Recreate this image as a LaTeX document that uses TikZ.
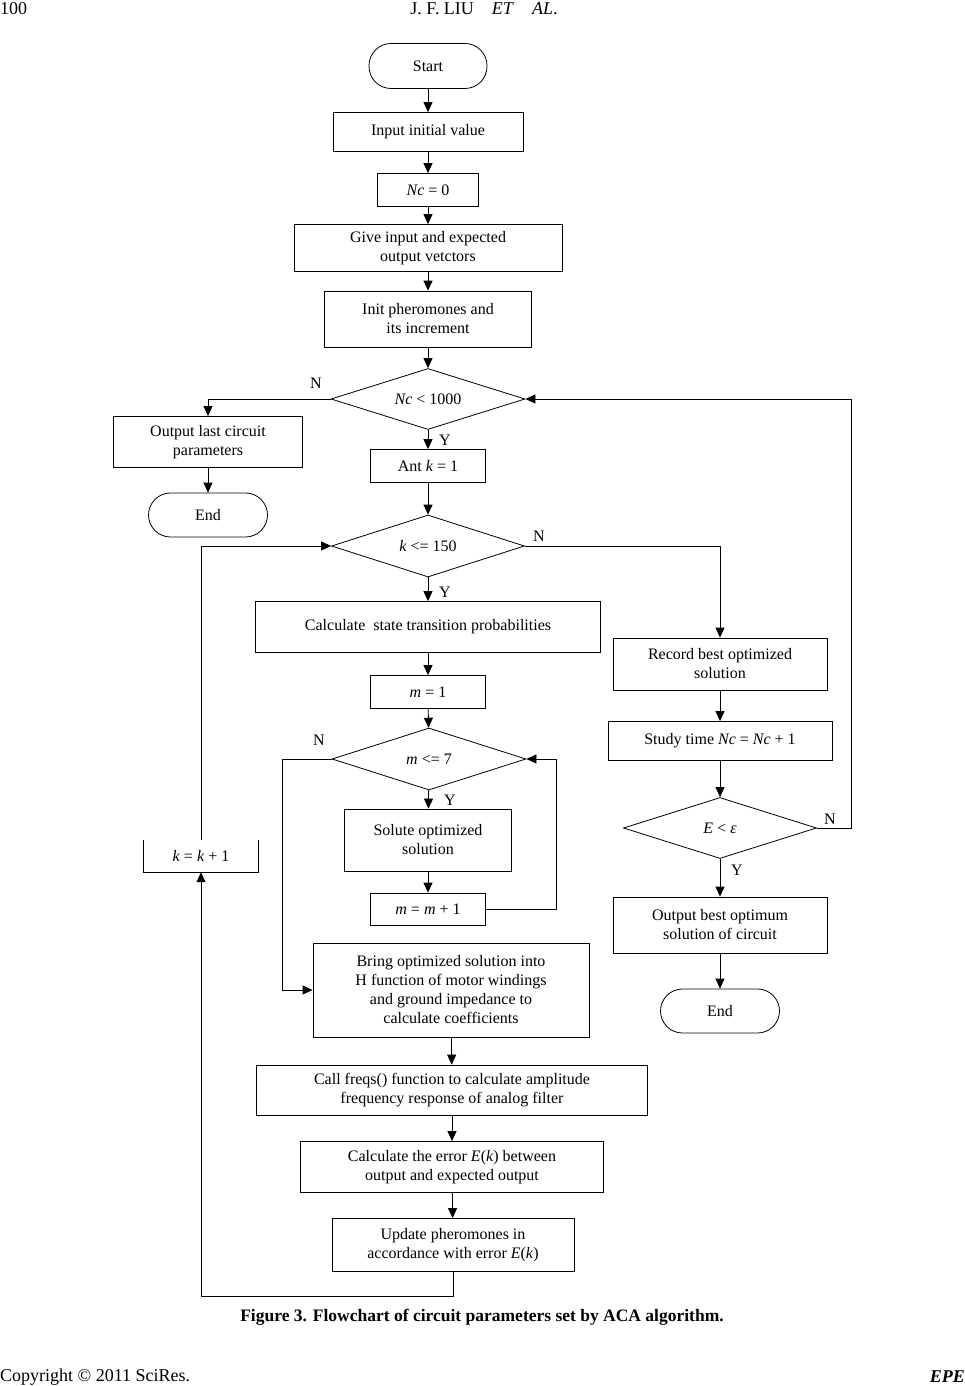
\documentclass[tikz,border=0pt]{standalone}
\usepackage{fontspec}
\setmainfont{Liberation Serif}
\usetikzlibrary{shapes.geometric,arrows.meta}
\begin{document}
\begin{tikzpicture}[x=1pt,y=-1pt,
  every node/.style={font=\fontsize{16}{19}\selectfont, align=center, inner sep=0pt},
  box/.style={draw, line width=0.8pt, rectangle},
  term/.style={draw, line width=0.8pt, rectangle, rounded corners=22pt},
  dec/.style={draw, line width=0.8pt, diamond, aspect=3.2},
  lbl/.style={font=\fontsize{16}{18}\selectfont},
  arr/.style={line width=0.8pt, -{Triangle[length=10pt,width=9pt]}},
  ln/.style={line width=0.8pt}]
\useasboundingbox (0,0) rectangle (965,1386);
% header / footer
\node[anchor=west, font=\fontsize{18}{20}\selectfont] (pg) at (0,9) {100};
\node[font=\fontsize{18}{20}\selectfont] (hd) at (484,9) {J. F. LIU\quad \textit{ET}\quad \textit{AL}.};
\node[font=\bfseries\fontsize{17.5}{20}\selectfont] (cap) at (482,1317) {Figure 3. Flowchart of circuit parameters set by ACA algorithm.};
\node[anchor=west, font=\fontsize{18}{20}\selectfont] (cp) at (0,1377) {Copyright © 2011 SciRes.};
\node[anchor=east, font=\bfseries\itshape\fontsize{18}{20}\selectfont] (epe) at (965,1377) {EPE};

% main column
\node[term, minimum width=118pt, minimum height=45pt] (start) at (428,66) {Start};
\node[box, minimum width=190pt, minimum height=39pt] (input) at (428,132) {Input initial value};
\node[box, minimum width=101pt, minimum height=33pt] (nc0) at (428,190) {\textit{Nc} = 0};
\node[box, minimum width=268pt, minimum height=47pt] (give) at (428,248) {Give input and expected\\output vetctors};
\node[box, minimum width=207pt, minimum height=56pt] (init) at (428,319) {Init pheromones and\\its increment};
\node[dec, minimum width=194pt, minimum height=61pt] (dNc) at (428,399) {\textit{Nc} {\textless} 1000};
\node[box, minimum width=189pt, minimum height=51pt] (outlast) at (208,442) {Output last circuit\\parameters};
\node[term, minimum width=119pt, minimum height=44pt] (end1) at (208,515) {End};
\node[box, minimum width=115pt, minimum height=33pt] (ant) at (428,466) {Ant \textit{k} = 1};
\node[dec, minimum width=193pt, minimum height=62pt] (dk) at (428,546) {\textit{k} {\textless}= 150};
\node[box, minimum width=345pt, minimum height=51pt] (calc) at (428,627) {Calculate\ \ state transition probabilities};
\node[box, minimum width=115pt, minimum height=33pt] (m1) at (428,692) {\textit{m} = 1};
\node[dec, minimum width=194pt, minimum height=62pt] (dm) at (429,759) {\textit{m} {\textless}= 7};
\node[box, minimum width=167pt, minimum height=62pt] (solute) at (428,840) {Solute optimized\\solution};
\node[box, minimum width=115pt, minimum height=32pt] (mm1) at (428,909) {\textit{m} = \textit{m} + 1};
\node[box, minimum width=276pt, minimum height=94pt] (bring) at (451,990) {Bring optimized solution into\\H function of motor windings\\and ground impedance to\\calculate coefficients};
\node[box, minimum width=391pt, minimum height=50pt] (freqs) at (452,1090) {Call freqs() function to calculate amplitude\\frequency response of analog filter};
\node[box, minimum width=303pt, minimum height=51pt] (err) at (452,1167) {Calculate the error \textit{E}(\textit{k}) between\\output and expected output};
\node[box, minimum width=242pt, minimum height=53pt] (upd) at (453,1245) {Update pheromones in\\accordance with error \textit{E}(\textit{k})};
\node[minimum width=115pt, minimum height=32pt] (kk) at (201,856) {\textit{k} = \textit{k} + 1};
\draw[ln] (kk.north west) -- (kk.south west) -- (kk.south east) -- (kk.north east);

% right column
\node[box, minimum width=214pt, minimum height=52pt] (record) at (720,664) {Record best optimized\\solution};
\node[box, minimum width=224pt, minimum height=39pt] (study) at (720,741) {Study time \textit{Nc} = \textit{Nc} + 1};
\node[dec, minimum width=193pt, minimum height=61pt] (dE) at (720,828) {\textit{E} {\textless} \textit{ε}};
\node[box, minimum width=214pt, minimum height=56pt] (outbest) at (720,925) {Output best optimum\\solution of circuit};
\node[term, minimum width=119pt, minimum height=44pt] (end2) at (720,1011) {End};

% connectors
\draw[arr] (start) -- (input);
\draw[arr] (input) -- (nc0);
\draw[arr] (nc0) -- (give);
\draw[arr] (give) -- (init);
\draw[arr] (init) -- (dNc);
\draw[arr] (dNc.west) -| (outlast.north);
\draw[arr] (outlast) -- (end1);
\draw[arr] (dNc) -- (ant);
\draw[arr] (ant) -- (dk);
\draw[arr] (dk) -- (calc);
\draw[arr] (dk.east) -| (record.north);
\draw[arr] (record) -- (study);
\draw[arr] (study) -- (dE);
\draw[arr] (dE) -- (outbest);
\draw[arr] (outbest) -- (end2);
\draw[arr] (dE.east) -- ++(34,0) |- (dNc.east);
\draw[arr] (calc) -- (m1);
\draw[arr] (m1) -- (dm);
\draw[arr] (dm) -- (solute);
\draw[arr] (solute) -- (mm1);
\draw[arr] (mm1.east) -- ++(70,0) |- (dm.east);
\draw[arr] (dm.west) -- ++(-49,0) |- (bring.west);
\draw[arr] (bring) -- (freqs);
\draw[arr] (freqs) -- (err);
\draw[arr] (err) -- (upd);
\draw[arr] (upd.south) -- ++(0,24) -| (kk.south);
\draw[arr] (kk.north) |- (dk.west);

% labels
\node[lbl] (n1) at (316,383) {N};
\node[lbl] (y1) at (445,440) {Y};
\node[lbl] (n2) at (539,536) {N};
\node[lbl] (y2) at (445,592) {Y};
\node[lbl] (n3) at (319,740) {N};
\node[lbl] (y3) at (450,800) {Y};
\node[lbl] (n4) at (830,819) {N};
\node[lbl] (y4) at (737,870) {Y};
\end{tikzpicture}
\end{document}
